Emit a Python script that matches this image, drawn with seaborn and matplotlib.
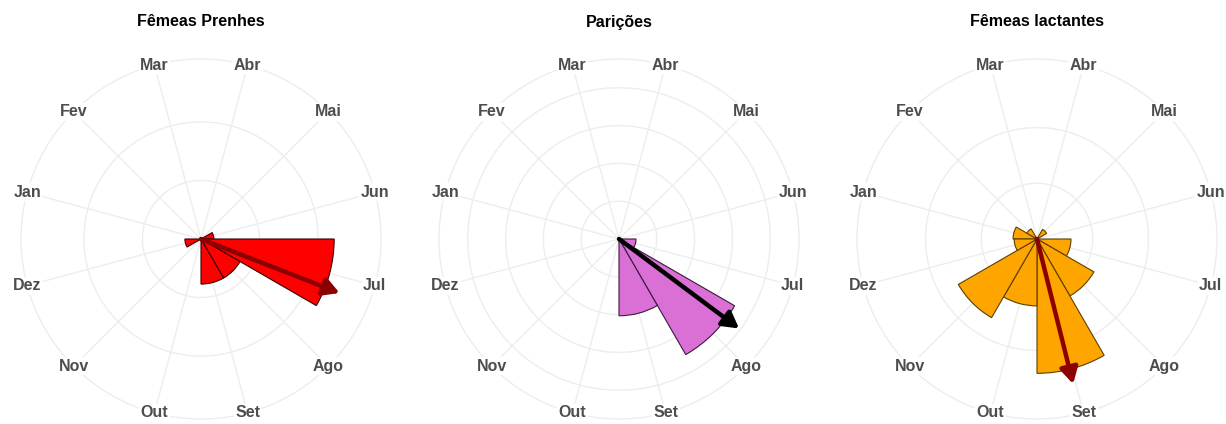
import numpy as np
import matplotlib
matplotlib.use("Agg")
import matplotlib.pyplot as plt
import seaborn as sns

months = ["Jan", "Fev", "Mar", "Abr", "Mai", "Jun",
          "Jul", "Ago", "Set", "Out", "Nov", "Dez"]

titles = ["Fêmeas Prenhes", "Parições", "Fêmeas lactantes"]

prenhes = [0, 0, 0, 0, 0, 4.4, 45.5, 15.4, 15.4, 0, 0, 5.5]
paricoes = [0, 0, 0, 0, 0, 0, 4.5, 35.3, 20.3, 0, 0, 0]
lactantes = [4.3, 2.1, 0, 0, 2.0, 0, 6.1, 11.8, 24.1, 12.0, 16.3, 4.1]

# mean direction (degrees clockwise from Jan centre) and length of mean vector
mean_dir = [186.3, 201.7, 241.0]
mean_len = [50.8, 39.6, 26.8]

series = [prenhes, paricoes, lactantes]
fills = ["#FF0000", "#DA70D6", "#FFA500"]
edges = ["#3a0000", "#3a1a3a", "#5a4000"]
arrow_cols = ["#8B0000", "#000000", "#8B0000"]
rmaxs = [61.5, 47.6, 32.3]
rticks = [[20, 40], [10, 20, 30, 40], [10, 20]]

sns.set_theme(style="white")
plt.rcParams["font.family"] = ["Liberation Sans", "DejaVu Sans"]

fig = plt.figure(figsize=(12.26, 4.24), dpi=100)
W, H = 1226, 424
centers_x = [201, 619, 1037]
cy = 239
R = 180

theta = np.deg2rad(np.arange(12) * 30)
for k in range(3):
    cx = centers_x[k]
    ax = fig.add_axes([(cx - R) / W, (H - cy - R) / H, 2 * R / W, 2 * R / H],
                      projection="polar")
    ax.set_theta_offset(np.deg2rad(165))
    ax.set_theta_direction(-1)
    ax.set_ylim(0, rmaxs[k])
    ax.set_rgrids(rticks[k], labels=[])
    ax.set_thetagrids(np.arange(12) * 30, labels=[])
    ax.grid(True, color="#EDEDED", lw=1.0)
    ax.spines["polar"].set_color("#EDEDED")
    ax.spines["polar"].set_linewidth(1.0)
    ax.set_facecolor("white")
    ax.bar(theta, series[k], width=np.deg2rad(30), bottom=0,
           color=fills[k], edgecolor=edges[k], linewidth=0.8, zorder=3)
    ax.annotate("", xy=(np.deg2rad(mean_dir[k]), mean_len[k]), xytext=(0, 0),
                arrowprops=dict(arrowstyle="-|>,head_length=0.8,head_width=0.45",
                                color=arrow_cols[k], lw=3.2,
                                mutation_scale=12, shrinkA=0, shrinkB=0),
                zorder=4)
    for i, m in enumerate(months):
        ax.text(theta[i], rmaxs[k], m, ha="center", va="center",
                fontsize=11.5, fontweight="bold", color="#4D4D4D",
                bbox=dict(facecolor="white", edgecolor="none", pad=1.0),
                clip_on=False, zorder=5)
    fig.text(cx / W, 1 - 22 / H, titles[k], ha="center", va="center",
             fontsize=11.5, fontweight="bold", color="black")

fig.savefig("out.png", dpi=100, facecolor="white")
